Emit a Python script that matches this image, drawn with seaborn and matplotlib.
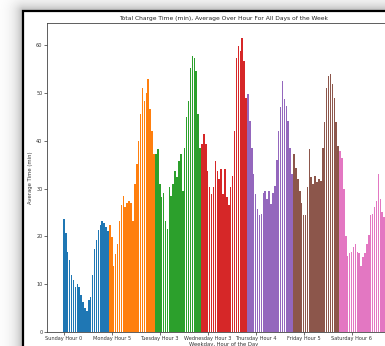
import numpy as np
import pandas as pd
import matplotlib
matplotlib.use("Agg")
import matplotlib.pyplot as plt
import seaborn as sns
from matplotlib.patches import Rectangle

# average charge time per hour, one list of 24 values per weekday
days = ["Sunday", "Monday", "Tuesday", "Wednesday", "Thursday", "Friday", "Saturday"]
sunday = [23.7, 20.7, 16.7, 15.0, 12.0, 10.8, 9.5, 10.1, 9.4, 7.7, 6.2, 5.0,
          4.3, 6.8, 7.3, 12.0, 17.4, 19.3, 21.4, 22.5, 23.3, 22.9, 21.9, 21.2]
monday = [22.3, 19.8, 13.9, 16.4, 18.5, 23.3, 26.5, 28.5, 26.1, 27.1, 27.5, 27.1,
          23.3, 31.0, 35.2, 40.0, 45.6, 51.1, 48.4, 50.0, 52.9, 46.6, 42.1, 37.2]
tuesday = [37.2, 38.3, 31.0, 28.2, 29.2, 23.3, 21.6, 30.3, 28.5, 31.0, 33.8, 32.4,
           35.8, 37.2, 29.6, 38.6, 44.9, 48.4, 55.3, 57.8, 57.4, 54.6, 45.6, 38.5]
wednesday = [39.3, 41.4, 39.3, 33.8, 30.3, 28.9, 30.3, 35.8, 33.8, 32.0, 34.1, 28.9,
             34.1, 28.2, 26.5, 30.3, 32.7, 42.1, 57.4, 59.9, 58.8, 61.6, 56.7, 49.0]
thursday = [49.8, 44.2, 38.6, 33.0, 28.9, 25.8, 24.4, 24.7, 29.2, 29.6, 27.8, 29.6,
            26.8, 29.2, 30.5, 36.0, 42.0, 47.0, 52.5, 48.7, 47.3, 44.2, 38.6, 33.0]
friday = [37.2, 34.4, 32.0, 29.6, 27.1, 24.4, 24.4, 30.3, 38.3, 32.4, 31.0, 32.7,
          31.3, 32.0, 31.7, 38.5, 44.0, 51.0, 53.5, 54.0, 52.0, 49.0, 44.0, 39.0]
saturday = [37.9, 36.5, 30.0, 20.0, 16.0, 16.5, 16.8, 17.8, 18.5, 16.8, 16.6, 13.9,
            15.7, 16.5, 18.5, 20.3, 24.4, 24.8, 26.1, 27.5, 33.1, 27.8, 25.1, 24.0]
values = [sunday, monday, tuesday, wednesday, thursday, friday, saturday]

tick_pos = [0, 25, 50, 75, 100, 125, 150]
tick_labels = ["Sunday Hour 0", "Monday Hour 5", "Tuesday Hour 3", "Wednesday Hour 3",
               "Thursday Hour 4", "Friday Hour 5", "Saturday Hour 6"]

rows = []
for d, vals in zip(days, values):
    for h, v in enumerate(vals):
        rows.append({"day": d, "hour": h, "value": v})
df = pd.DataFrame(rows)
df["pos"] = np.arange(len(df))

W, H = 385, 346
fig = plt.figure(figsize=(W / 100, H / 100), dpi=100)
fig.patch.set_facecolor("white")

# slide backdrop: soft shadow left/top of the framed chart
bg = fig.add_axes([0, 0, 1, 1], zorder=-3)
yy, xx = np.mgrid[0:H, 0:W]
dx = np.clip(23 - xx, 0, None)
dy = np.clip(11 - yy, 0, None)
dist = np.sqrt(dx ** 2 + dy ** 2)
shade = 1 - 0.32 * np.exp(-dist / 7.0) * ((xx < 23) | (yy < 11))
bg.imshow(shade, cmap="gray", vmin=0, vmax=1, aspect="auto", interpolation="bilinear")
bg.set_axis_off()

frame = Rectangle((23 / W, -0.1), 1.2, (H - 11) / H + 0.1, transform=fig.transFigure,
                  facecolor="white", edgecolor="black", linewidth=1.6, zorder=-2)
fig.patches.append(frame)

# slide heading, cut off at the top edge (only the descenders show)
fig.text(-26 / W, 1.0, "Weekday Usage During Hours of the Day", fontsize=13.5,
         fontweight="bold", ha="left", va="bottom", color="black")

ax = fig.add_axes([47 / W, 14 / H, 354 / W, 309 / H])
palette = ["#1f77b4", "#ff7f0e", "#2ca02c", "#d62728", "#9467bd", "#8c564b", "#e377c2"]
sns.barplot(data=df, x="pos", y="value", hue="day", hue_order=days, palette=palette,
            dodge=False, saturation=1, errorbar=None, legend=False, width=0.8, ax=ax)

n = len(df)
span = (n - 1) + 0.8
ax.set_xlim(-0.4 - 0.05 * span, n - 1 + 0.4 + 0.05 * span)
ax.set_xticks(tick_pos)
ax.set_xticklabels(tick_labels)
ax.set_yticks([0, 10, 20, 30, 40, 50, 60])

for s in ax.spines.values():
    s.set_linewidth(0.6)
    s.set_color("#444444")
ax.tick_params(labelsize=3.6, length=2, width=0.5, pad=1.2, colors="#333333")
ax.set_title("Total Charge Time (min), Average Over Hour For All Days of the Week",
             fontsize=4.3, pad=2.5, color="#222222")
ax.set_xlabel("Weekday, Hour of the Day", fontsize=3.8, labelpad=0.5, color="#333333")
ax.set_ylabel("Average Time (min)", fontsize=3.8, labelpad=2.5, color="#333333")

fig.savefig("out.png", dpi=100)
